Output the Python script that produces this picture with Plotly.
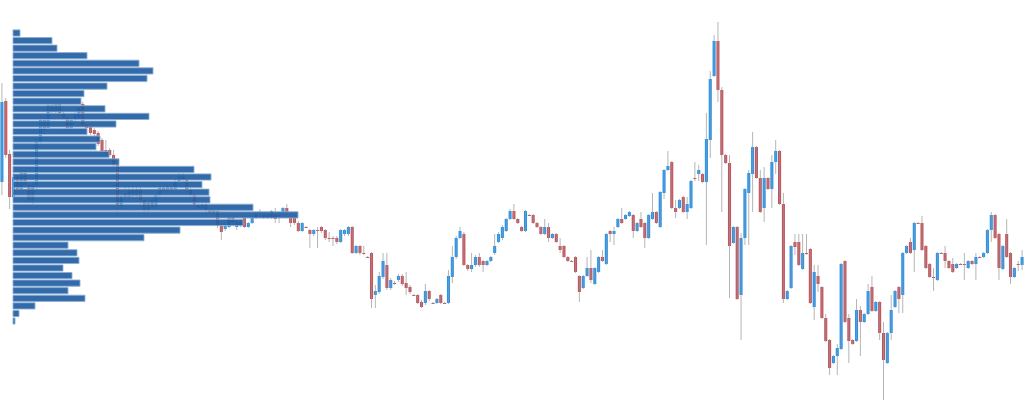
import plotly.graph_objects as go

# ---------------- candle data (price units) ----------------
opens = [318,399,346,303,323,310,328,315,300,315,
         358,380,372,395,388,396,387,382,372,380,
         382,396,375,373,370,367,360,350,350,345,
         335,294,307,303,310,304,311,300,290,300,
         293,305,312,309,313,310,318,324,320,310,
         305,295,292,296,290,287,289,274,271,273,
         283,273,278,282,273,277,282,288,285,282,
         289,285,285,288,292,282,282,277,269,273,
         270,266,270,273,270,262,262,262,258,266,
         266,273,247,254,247,243,247,205,208,223,
         235,212,217,220,224,217,213,205,205,198,
         197,209,197,197,205,197,197,223,243,262,
         266,235,231,235,243,239,235,239,247,258,
         262,269,281,289,281,273,269,285,285,277,
         273,266,273,262,266,254,254,243,239,243,
         224,212,224,232,216,228,243,236,269,266,
         273,281,281,284,285,269,281,277,262,281,
         288,273,307,330,338,292,292,303,288,292,
         322,326,326,318,360,424,459,410,345,337,
         257,273,205,262,307,326,353,322,292,322,
         311,338,349,296,201,212,258,258,231,247,
         251,193,224,213,182,160,137,144,151,239,
         182,160,159,190,178,186,213,189,198,167,
         137,167,193,213,205,247,258,250,277,277,
         254,236,223,220,247,247,239,236,232,236,
         236,232,239,236,243,243,247,270,285,266,
         231,266,247,223,236,235]

highs = [417,402,350,330,325,330,330,317,318,362,
         385,383,398,397,399,398,390,384,382,388,
         394,398,377,375,372,369,362,360,352,350,
         337,310,314,315,314,317,313,302,300,302,
         307,315,314,315,315,322,328,327,322,312,
         307,297,298,297,292,291,290,276,275,285,
         284,280,280,283,278,284,288,291,287,287,
         290,292,288,293,296,284,283,279,278,274,
         271,271,273,274,271,268,264,264,271,271,
         274,274,255,255,254,244,248,215,228,247,
         247,222,219,226,226,228,215,206,206,200,
         216,210,198,202,206,198,230,254,264,273,
         268,236,247,245,247,240,240,244,266,268,
         275,282,291,296,282,274,290,286,286,278,
         274,281,277,267,267,262,255,244,240,244,
         225,225,243,250,233,244,250,267,270,273,
         282,292,286,289,286,278,288,278,286,307,
         289,309,331,349,339,300,301,304,303,320,
         338,335,327,387,429,465,478,413,346,345,
         274,274,267,312,330,368,354,330,333,323,
         345,360,350,307,210,255,266,266,266,266,
         252,235,235,214,186,161,145,156,237,240,
         186,161,201,194,187,216,224,199,199,178,
         168,205,210,214,248,255,262,278,278,284,
         255,237,232,248,248,254,240,242,237,237,
         247,240,240,247,244,248,271,288,286,267,
         255,281,248,233,239,250]

lows = [305,342,291,300,308,306,313,297,296,310,
        355,366,369,386,386,385,380,369,370,378,
        380,373,370,365,364,354,348,345,343,333,
        287,290,300,300,301,302,296,287,288,291,
        291,303,307,307,308,309,317,318,308,303,
        293,290,291,287,286,285,272,260,269,272,
        276,270,273,272,272,276,281,284,281,281,
        281,277,277,287,286,273,275,268,268,272,
        252,264,252,267,260,258,254,256,257,264,
        264,246,246,245,245,242,192,192,206,221,
        210,210,215,218,214,205,206,204,196,192,
        195,199,196,196,196,196,196,217,241,261,
        234,229,228,233,233,228,234,238,245,257,
        260,268,280,280,276,268,268,284,276,272,
        265,265,258,261,257,247,242,238,238,227,
        198,211,223,217,215,227,238,235,258,255,
        272,276,280,283,262,268,272,252,261,280,
        276,272,301,329,291,282,291,287,281,291,
        319,319,317,255,342,423,398,288,336,202,
        256,200,160,255,255,288,321,287,278,310,
        292,326,295,197,200,211,245,234,230,245,
        196,180,208,181,158,125,136,125,150,177,
        137,155,158,144,177,185,188,188,160,100,
        136,160,192,187,187,246,246,228,276,249,
        231,222,209,219,246,232,231,227,231,235,
        220,231,235,220,242,242,246,258,261,220,
        230,242,216,222,229,230]

closes = [398,345,303,323,310,328,315,300,315,358,
          380,370,395,388,396,387,382,372,380,385,
          392,375,372,367,366,356,349,349,345,335,
          294,304,303,310,304,311,300,290,297,293,
          305,312,309,313,310,318,324,320,310,305,
          295,292,296,290,287,290,274,268,274,283,
          278,278,275,273,277,282,286,287,282,285,
          282,281,284,292,288,277,277,269,277,272,
          266,270,269,269,262,261,261,258,270,270,
          273,247,254,247,246,242,201,209,224,239,
          212,220,216,224,216,212,208,204,197,193,
          209,201,196,201,197,196,224,243,262,269,
          235,231,235,243,235,235,239,243,254,266,
          273,281,289,281,277,269,289,284,277,273,
          266,273,262,266,258,250,243,239,238,228,
          208,224,232,220,232,243,239,266,266,269,
          281,277,285,288,269,277,273,262,285,288,
          277,308,330,334,292,288,300,288,296,319,
          321,330,318,361,421,459,410,345,337,254,
          273,201,262,311,327,353,322,288,322,311,
          338,349,296,201,209,254,253,235,247,246,
          197,228,216,182,159,132,144,152,236,178,
          159,156,190,178,186,209,189,198,167,140,
          167,190,209,201,247,254,247,277,276,250,
          232,223,222,247,246,239,232,228,236,235,
          235,239,236,243,242,247,270,285,262,232,
          254,243,223,232,235,243]

# ---------------- volume profile ----------------
profile_levels = [467.0,459.4,451.8,444.3,436.7,429.1,421.5,413.9,406.4,398.8,
                  391.2,383.6,376.0,368.5,360.9,353.3,345.7,338.1,330.6,323.0,
                  315.4,307.8,300.2,292.7,285.1,277.5,269.9,262.3,254.8,247.2,
                  239.6,232.0,224.4,216.9,209.3,201.7,194.1,186.5,179.0]
profile_volume = [70,390,440,740,1260,1400,1340,940,710,680,
                  920,1360,1030,740,870,830,960,1060,1810,1980,
                  1890,1960,1970,2400,2850,2300,1670,1310,550,640,
                  660,500,590,670,550,720,220,60,20]

n = len(opens)
assert len(highs) == n and len(lows) == n and len(closes) == n, (len(opens), len(highs), len(lows), len(closes))
idx = list(range(n))

BLUE = '#2196F3'
RED = '#C8535B'

wx, wy = [], []
for i in idx:
    wx += [i, i, None]
    wy += [lows[i], highs[i], None]

fig = go.Figure()
fig.add_trace(go.Scatter(x=wx, y=wy, mode='lines',
                         line=dict(color='rgba(150,150,150,0.7)', width=1),
                         hoverinfo='skip', showlegend=False))
fig.add_trace(go.Candlestick(
    x=idx, open=opens, high=highs, low=lows, close=closes,
    increasing=dict(fillcolor=BLUE, line=dict(color=BLUE, width=0)),
    decreasing=dict(fillcolor=RED, line=dict(color=RED, width=0)),
    whiskerwidth=0, showlegend=False))
fig.add_trace(go.Bar(
    y=profile_levels, x=profile_volume, orientation='h', width=6.2,
    xaxis='x2', yaxis='y',
    marker=dict(color='rgba(35,95,163,0.93)',
                line=dict(color='rgba(140,175,210,0.9)', width=1)),
    showlegend=False))

fig.update_layout(
    width=1024, height=406,
    margin=dict(l=0, r=0, t=0, b=0),
    paper_bgcolor='white', plot_bgcolor='white',
    showlegend=False,
    boxgap=0.2, boxgroupgap=0,
    xaxis=dict(range=[-0.5, n - 0.5], visible=False, showgrid=False,
               rangeslider=dict(visible=False)),
    xaxis2=dict(range=[-130, 10110], overlaying='x', visible=False, showgrid=False),
    yaxis=dict(range=[94, 500], visible=False, showgrid=False),
)

fig.write_html("out.html",
               config={'displayModeBar': False},
               post_script="document.body.style.margin='0';document.body.style.overflow='hidden';")
